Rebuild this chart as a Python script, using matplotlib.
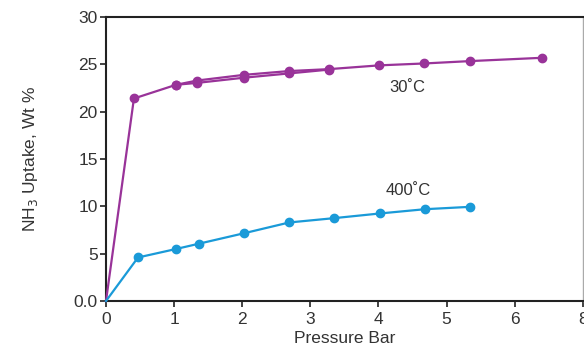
import matplotlib
matplotlib.use("Agg")
import matplotlib.pyplot as plt

plt.rcParams["font.family"] = ["Liberation Sans Narrow", "Liberation Sans", "DejaVu Sans"]

# 30°C 吸附/脱附两支（滞后回线）
p30_up = [0, 0.41, 1.03, 1.34, 2.03, 2.69, 3.27, 4.01, 4.67, 5.34, 6.40]
u30_up = [0, 21.4, 22.85, 23.3, 23.9, 24.3, 24.5, 24.9, 25.1, 25.35, 25.7]
p30_dn = [1.03, 1.34, 2.03, 2.69, 3.27]
u30_dn = [22.85, 23.05, 23.6, 24.05, 24.45]

# 400°C
p400 = [0, 0.47, 1.03, 1.36, 2.02, 2.69, 3.34, 4.02, 4.68, 5.34]
u400 = [0, 4.6, 5.5, 6.05, 7.15, 8.3, 8.75, 9.25, 9.7, 9.95]

xticks = [0, 1, 2, 3, 4, 5, 6, 7]
xticklabels = ["0", "1", "2", "3", "4", "5", "6", "8"]
yticks = [0, 5, 10, 15, 20, 25, 30]
yticklabels = ["0.0", "5", "10", "15", "20", "25", "30"]

PURPLE = "#993399"
BLUE = "#1a9ad8"
TXT = "#333333"

fig = plt.figure(figsize=(5.84, 3.49), dpi=100)
ax = fig.add_axes([0.1815, 0.1375, 0.8165, 0.8135])

# 起点 (0,0) 不画圆点
ax.plot(p30_up, u30_up, color=PURPLE, lw=1.6, marker="o", ms=6,
        markevery=list(range(1, len(p30_up))), clip_on=False, zorder=3)
ax.plot(p30_dn, u30_dn, color=PURPLE, lw=1.6, marker="o", ms=6, clip_on=False, zorder=3)
ax.plot(p400, u400, color=BLUE, lw=1.6, marker="o", ms=6,
        markevery=list(range(1, len(p400))), clip_on=False, zorder=3)

ax.text(4.42, 22.6, "30˚C", fontsize=12, color=TXT, ha="center", va="center")
ax.text(4.43, 11.7, "400˚C", fontsize=12, color=TXT, ha="center", va="center")

ax.set_xlim(0, 7)
ax.set_ylim(0, 30)
ax.set_xticks(xticks)
ax.set_xticklabels(xticklabels)
ax.set_yticks(yticks)
ax.set_yticklabels(yticklabels)
ax.tick_params(direction="out", length=4, width=1.2, labelsize=12.5, colors="#222222", pad=2)
ax.tick_params(axis="x", pad=4)
for lab in ax.get_xticklabels() + ax.get_yticklabels():
    lab.set_color(TXT)

ax.set_xlabel("Pressure Bar", fontsize=12.5, color=TXT, labelpad=3)
ax.set_ylabel("NH$_3$ Uptake, Wt %", fontsize=12.5, color=TXT, labelpad=24)

for s in ["left", "bottom", "top"]:
    ax.spines[s].set_linewidth(1.5)
    ax.spines[s].set_color("#222222")
ax.spines["right"].set_color("#aaaaaa")
ax.spines["right"].set_linewidth(1.0)

plt.savefig("out.png", dpi=100)
